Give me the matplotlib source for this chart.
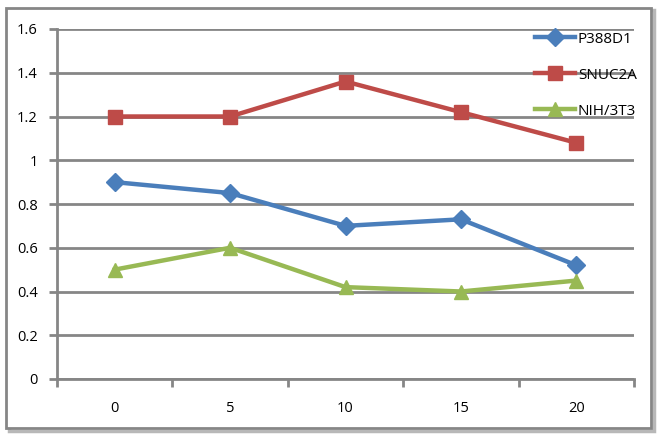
import numpy as np
import matplotlib
matplotlib.use('Agg')
import matplotlib.pyplot as plt
from matplotlib.patches import Rectangle

CATEGORIES = ['0', '5', '10', '15', '20']
P388D1 = [0.90, 0.85, 0.70, 0.73, 0.52]
SNUC2A = [1.20, 1.20, 1.36, 1.22, 1.08]
NIH3T3 = [0.50, 0.60, 0.42, 0.40, 0.45]
SERIES = [('P388D1', P388D1, '#4a7ebb', 'D', 9),
          ('SNUC2A', SNUC2A, '#be4b48', 's', 10),
          ('NIH/3T3', NIH3T3, '#98b954', '^', 10)]
YTICKS = [0, 0.2, 0.4, 0.6, 0.8, 1, 1.2, 1.4, 1.6]

plt.rcParams['font.family'] = ['Open Sans', 'DejaVu Sans']
GRID = '#868686'

fig = plt.figure(figsize=(6.6, 4.34), dpi=100)
# outer chart border with a little shadow
fig.patches.append(Rectangle((9 / 660, 1 - 431 / 434), 645 / 660, 421 / 434,
                             transform=fig.transFigure, facecolor='none',
                             edgecolor='#b8b8b8', lw=2.5, zorder=-2))
fig.patches.append(Rectangle((6 / 660, 1 - 428 / 434), 645 / 660, 420 / 434,
                             transform=fig.transFigure, facecolor='white',
                             edgecolor=GRID, lw=2, zorder=-1))

ax = fig.add_axes([57 / 660, 1 - 379 / 434, 577 / 660, 350 / 434])
ax.set_zorder(2)
ax.patch.set_alpha(0)
x = np.arange(len(CATEGORIES))
for name, vals, col, mk, ms in SERIES:
    ax.plot(x, vals, color=col, lw=3.2, marker=mk, markersize=ms,
            markeredgecolor=col, label=name, zorder=3)

ax.set_xlim(-0.5, len(CATEGORIES) - 0.5)
ax.set_ylim(0, 1.6)
ax.set_yticks(YTICKS)
ax.set_yticklabels([f'{v:g}' for v in YTICKS])
ax.set_xticks(np.arange(len(CATEGORIES) + 1) - 0.5)
ax.set_xticklabels([])
ax.set_xticks(x, minor=True)
ax.set_xticklabels(CATEGORIES, minor=True)
ax.tick_params(axis='x', which='major', length=6, width=2, color=GRID, direction='out')
ax.tick_params(axis='x', which='minor', length=0, pad=16, labelsize=10.5)
ax.tick_params(axis='y', length=6, width=2, color=GRID, pad=8, labelsize=10.5)

ax.grid(axis='y', color=GRID, lw=2, zorder=0)
ax.set_axisbelow(True)
for s in ['top', 'right']:
    ax.spines[s].set_visible(False)
for s in ['left', 'bottom']:
    ax.spines[s].set_color(GRID)
    ax.spines[s].set_linewidth(2)

ax.legend(loc='upper left', bbox_to_anchor=(0.818, 1.01), frameon=False,
          fontsize=11, handlelength=2.6, handletextpad=0.2, labelspacing=1.38,
          borderaxespad=0.0)

fig.savefig('out.png', dpi=100)
